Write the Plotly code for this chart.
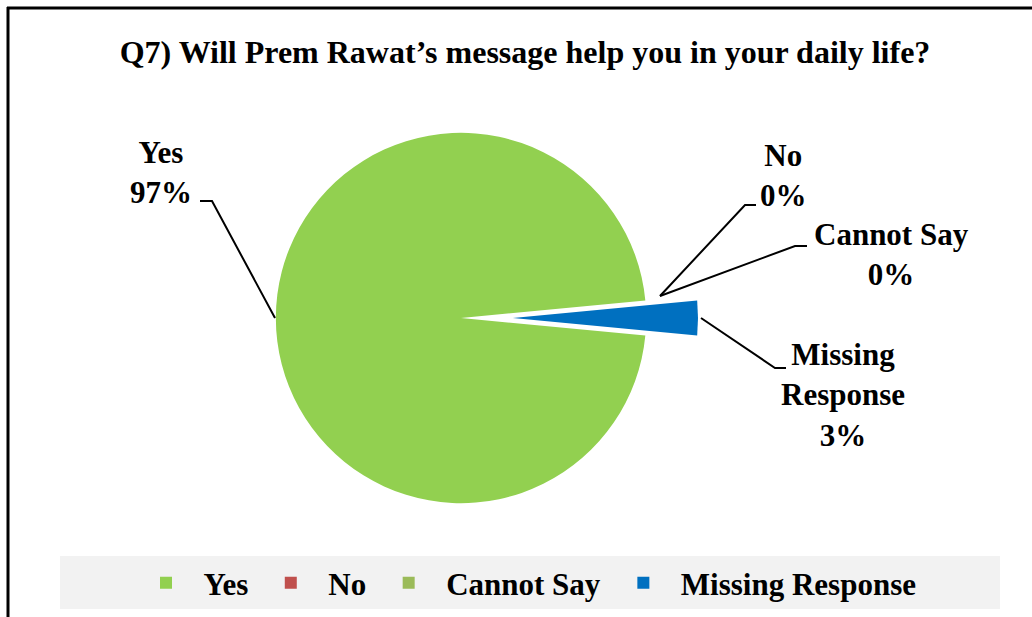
import plotly.graph_objects as go

# --------------------
# Data
# --------------------
labels = ["Yes", "No", "Cannot Say", "Missing Response"]
values = [97, 0, 0, 3]
colors = ["#92D050", "#C0504D", "#9BBB59", "#0070C0"]
pulls = [0, 0, 0, 0.28]
label_texts = ["Yes<br>97%", "No<br>0%", "Cannot Say<br>0%", "Missing<br>Response<br>3%"]

W, H = 1032, 617
FONT = "Liberation Serif"


def px(x):
    return x / W


def py(y):
    return 1 - y / H


# --------------------
# Pie
# --------------------
fig = go.Figure()
fig.add_trace(go.Pie(
    labels=labels,
    values=values,
    marker=dict(colors=colors, line=dict(width=0)),
    pull=pulls,
    sort=False,
    direction="clockwise",
    rotation=95.4,
    textinfo="none",
    hoverinfo="label+percent",
    domain=dict(x=[px(461 - 237), px(461 + 237)], y=[py(318 + 237), py(318 - 237)]),
))

# --------------------
# Data labels with leader lines
# --------------------
label_pos = [(161, 172), (783, 175), (891, 254), (843, 395)]
leader_paths = [
    [(275, 318), (212, 201), (200, 201)],
    [(660, 296), (745, 205), (756, 205)],
    [(660, 296), (795, 246), (807, 246)],
    [(701, 318), (775, 368), (786, 368)],
]

annotations = []
for txt, (x, y) in zip(label_texts, label_pos):
    annotations.append(dict(
        x=px(x), y=py(y), xref="paper", yref="paper",
        text=f"<b>{txt}</b>", showarrow=False,
        font=dict(family=FONT, size=31, color="black"),
        align="center", xanchor="center", yanchor="middle",
    ))

shapes = []
for pts in leader_paths:
    path = "M " + " L ".join(f"{px(x)},{py(y)}" for x, y in pts)
    shapes.append(dict(type="path", xref="paper", yref="paper", path=path,
                       line=dict(color="black", width=2)))

# legend background box
shapes.append(dict(type="rect", xref="paper", yref="paper",
                   x0=px(60), x1=px(1000), y0=py(609), y1=py(556),
                   fillcolor="#F2F2F2", line=dict(width=0), layer="below"))

# chart frame (top & left)
shapes.append(dict(type="line", xref="paper", yref="paper",
                   x0=px(7), x1=1, y0=py(8), y1=py(8),
                   line=dict(color="black", width=3)))
shapes.append(dict(type="line", xref="paper", yref="paper",
                   x0=px(8), x1=px(8), y0=py(7), y1=0,
                   line=dict(color="black", width=3)))

fig.update_layout(
    width=W, height=H,
    margin=dict(l=0, r=0, t=0, b=0),
    paper_bgcolor="white",
    title=dict(
        text="<b>Q7) Will Prem Rawat’s message help you in your daily life?</b>",
        x=525 / W, xanchor="center", y=py(52), yanchor="middle",
        font=dict(family=FONT, size=32, color="black"),
    ),
    showlegend=True,
    legend=dict(
        orientation="h", x=px(525), xanchor="center", y=py(583), yanchor="middle",
        bgcolor="rgba(0,0,0,0)",
        font=dict(family=FONT, size=31, color="black", weight="bold"),
        itemwidth=65, tracegroupgap=0,
    ),
    annotations=annotations,
    shapes=shapes,
)

fig.write_html("out.html", config={"displayModeBar": False},
               post_script="document.body.style.margin='0';")
